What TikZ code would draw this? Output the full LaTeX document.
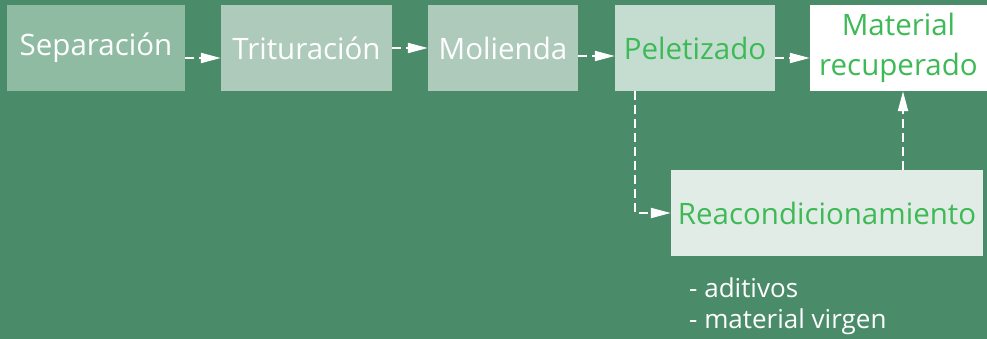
\documentclass[tikz,border=0pt]{standalone}
\usepackage{fontspec}
\setmainfont{Open Sans}
\usetikzlibrary{arrows.meta}
\definecolor{bg}{HTML}{4A8C69}
\definecolor{c1}{HTML}{8FBBA3}
\definecolor{c2}{HTML}{ADCABB}
\definecolor{c3}{HTML}{C5DDD0}
\definecolor{c4}{HTML}{E2ECE6}
\definecolor{gtxt}{HTML}{3DBA55}
\tikzset{
  box/.style={inner sep=0pt, minimum height=86pt, align=center, font=\fontsize{29.5}{40}\selectfont},
  flow/.style={draw=white, line width=2pt, dash pattern=on 9pt off 5pt, -{Triangle[length=20pt,width=10pt]}},
  note/.style={text=white, anchor=west, inner sep=0pt, font=\fontsize{26}{30}\selectfont}
}
\begin{document}
\begin{tikzpicture}[x=1pt,y=-1pt]
\fill[bg] (0,0) rectangle (987,339);
\useasboundingbox (0,0) rectangle (987,339);
\node[box, fill=c1, text=white, minimum width=178pt] (sep) at (96,48) {Separación};
\node[box, fill=c2, text=white, minimum width=171pt] (trit) at (306.5,48) {Trituración};
\node[box, fill=c2, text=white, minimum width=150pt] (mol) at (503,48) {Molienda};
\node[box, fill=c3, text=gtxt, minimum width=160pt] (pel) at (695,48) {Peletizado};
\node[box, fill=white, text=gtxt, minimum width=177pt] (mat) at (898.5,48) {Material\\recuperado};
\node[box, fill=c4, text=gtxt, minimum width=312pt] (reac) at (827,213) {Reacondicionamiento};
\node[note] (n1) at (689,288) {- aditivos};
\node[note] (n2) at (689,322) {- material virgen};
\draw[flow] ([yshift=-10pt]sep.east) -- ([yshift=-10pt]sep.east -| trit.west);
\draw[flow] (trit.east) -- (trit.east -| mol.west);
\draw[flow] ([yshift=-8pt]mol.east) -- ([yshift=-8pt]mol.east -| pel.west);
\draw[flow] ([yshift=-10pt]pel.east) -- ([yshift=-10pt]pel.east -| mat.west);
\draw[flow] ([xshift=-60pt]pel.south) |- (reac.west);
\draw[flow] ([xshift=76pt]reac.north) -- ([xshift=76pt]reac.north |- mat.south);
\end{tikzpicture}
\end{document}
